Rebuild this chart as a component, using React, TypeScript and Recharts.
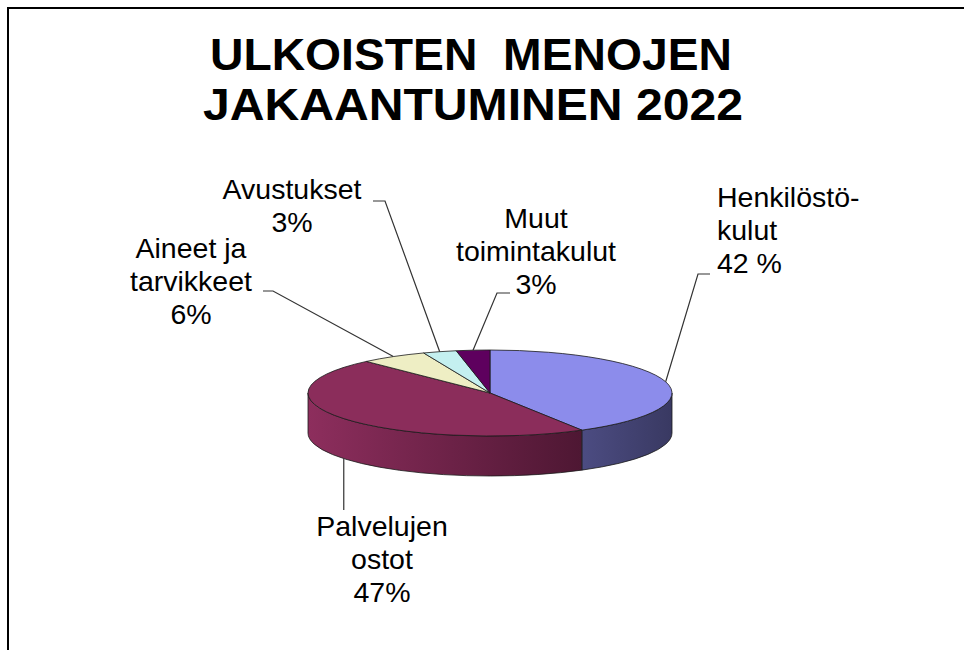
import React from "react";
import { PieChart, Pie } from "recharts";

// categories in clockwise order starting from 12 o'clock
const CATEGORIES = [
  "Henkilöstökulut",
  "Palvelujen ostot",
  "Aineet ja tarvikkeet",
  "Avustukset",
  "Muut toimintakulut",
];
const LABEL_LINES = [
  ["Henkilöstö-", "kulut"],
  ["Palvelujen", "ostot"],
  ["Aineet ja", "tarvikkeet"],
  ["Avustukset"],
  ["Muut", "toimintakulut"],
];
const SHARES = [42, 47, 6, 3, 3];
const PCT_LABELS = ["42 %", "47%", "6%", "3%", "3%"];

const TOP_COLORS = ["#8c8ceb", "#8b2d5b", "#eeeec4", "#c4f0f0", "#5e005e"];
const SIDE_COLORS: [string, string][] = [
  ["#4c4c82", "#393962"],
  ["#8d2e5d", "#4e1733"],
  ["#b8b890", "#8a8a6a"],
  ["#90b8b8", "#6a8a8a"],
  ["#460046", "#300030"],
];

const data = CATEGORIES.map((name, i) => ({ name, value: SHARES[i] }));

const W = 964;
const H = 650;
const CX = 490;
const CY = 393;
const R = 182;
const TILT = 43 / 182;
const DEPTH = 40;
const LH = 33;
const FONT = "'Liberation Sans', Arial, sans-serif";

// hand placed label boxes, like the manually dragged labels of the original
const LABEL_LAYOUT: any[] = [
  { x: 717, y: 207, anchor: "start", elbow: [698, 274], end: [710, 274] },
  { x: 382, y: 536, anchor: "middle", drop: 510 },
  { x: 191, y: 258, anchor: "middle", elbow: [273, 291], end: [263, 291] },
  { x: 292, y: 199, anchor: "middle", elbow: [385, 201], end: [373, 201] },
  { x: 536, y: 228, anchor: "middle", elbow: [497, 293], end: [510, 293] },
];

function ellPt(cx: number, cy: number, rx: number, ry: number, deg: number) {
  const r = (deg * Math.PI) / 180;
  return [cx + rx * Math.cos(r), cy - ry * Math.sin(r)];
}

function renderSlice(props: any) {
  const { cx, cy, outerRadius, startAngle, endAngle, index } = props;
  const rx = outerRadius;
  const ry = outerRadius * TILT;
  const lo = Math.min(startAngle, endAngle);
  const hi = Math.max(startAngle, endAngle);

  // front facing part of the rim (lower half of the ellipse)
  const walls: number[][] = [];
  for (let k = -2; k <= 1; k++) {
    const a = Math.max(lo, -180 + 360 * k);
    const b = Math.min(hi, 360 * k);
    if (b - a > 0.01) walls.push([a, b]);
  }

  const [hx, hy] = ellPt(cx, cy, rx, ry, hi);
  const [lx, ly] = ellPt(cx, cy, rx, ry, lo);
  const large = hi - lo > 180 ? 1 : 0;
  const top = `M${cx},${cy} L${hx},${hy} A${rx},${ry} 0 ${large} 1 ${lx},${ly} Z`;
  const gid = `side-grad-${index}`;

  return (
    <g key={`slice-${index}`}>
      <defs>
        <linearGradient id={gid} x1="0" y1="0" x2="1" y2="0">
          <stop offset="0%" stopColor={SIDE_COLORS[index][0]} />
          <stop offset="100%" stopColor={SIDE_COLORS[index][1]} />
        </linearGradient>
      </defs>
      {walls.map(([a, b], j) => {
        const [bx, by] = ellPt(cx, cy, rx, ry, b);
        const [ax, ay] = ellPt(cx, cy, rx, ry, a);
        const d = `M${bx},${by} A${rx},${ry} 0 0 1 ${ax},${ay} L${ax},${ay + DEPTH} A${rx},${ry} 0 0 0 ${bx},${by + DEPTH} Z`;
        return (
          <path
            key={j}
            d={d}
            fill={`url(#${gid})`}
            stroke="#1a1a1a"
            strokeWidth={0.8}
            strokeLinejoin="round"
          />
        );
      })}
      <path
        d={top}
        fill={TOP_COLORS[index]}
        stroke="#1a1a1a"
        strokeWidth={0.8}
        strokeLinejoin="round"
      />
    </g>
  );
}

function renderLabel(props: any) {
  const { cx, cy, outerRadius, midAngle, index } = props;
  const lay = LABEL_LAYOUT[index];
  let [ax, ay] = ellPt(cx, cy, outerRadius, outerRadius * TILT, midAngle);
  if (Math.sin((midAngle * Math.PI) / 180) < 0) ay += DEPTH;
  const pts =
    lay.drop != null ? [[ax, ay], [ax, lay.drop]] : [[ax, ay], lay.elbow, lay.end];
  const lines = [...LABEL_LINES[index], PCT_LABELS[index]];
  return (
    <g key={`label-${index}`}>
      <polyline
        points={pts.map((p: number[]) => p.join(",")).join(" ")}
        fill="none"
        stroke="#333"
        strokeWidth={1.2}
      />
      <text
        textAnchor={lay.anchor}
        fontFamily={FONT}
        fontSize={28.5}
        fill="#000"
      >
        {lines.map((l, i) => (
          <tspan key={i} x={lay.x} y={lay.y + i * LH}>
            {l}
          </tspan>
        ))}
      </text>
    </g>
  );
}

export default function App() {
  return (
    <div
      style={{
        position: "fixed",
        left: 0,
        top: 0,
        width: W,
        height: H,
        background: "#fff",
        overflow: "hidden",
      }}
    >
      <div
        style={{
          position: "absolute",
          left: 7,
          top: 7,
          width: W + 20,
          height: H + 20,
          borderTop: "2px solid #000",
          borderLeft: "2px solid #000",
        }}
      />
      <svg
        width={W}
        height={140}
        style={{ position: "absolute", left: 0, top: 0 }}
      >
        <text
          x={210}
          y={70}
          fontFamily={FONT}
          fontWeight="bold"
          fontSize={45}
          textLength={522}
          lengthAdjust="spacingAndGlyphs"
          style={{ whiteSpace: "pre" }}
        >
          {"ULKOISTEN  MENOJEN"}
        </text>
        <text
          x={203}
          y={120}
          fontFamily={FONT}
          fontWeight="bold"
          fontSize={45}
          textLength={540}
          lengthAdjust="spacingAndGlyphs"
        >
          JAKAANTUMINEN 2022
        </text>
      </svg>
      <div style={{ position: "absolute", left: 0, top: 0 }}>
        <PieChart
          width={W}
          height={H}
          margin={{ top: 0, right: 0, bottom: 0, left: 0 }}
        >
          <Pie
            data={data}
            dataKey="value"
            nameKey="name"
            cx={CX}
            cy={CY}
            outerRadius={R}
            startAngle={90}
            endAngle={-270}
            fill="none"
            stroke="none"
            label={renderSlice}
            labelLine={false}
            isAnimationActive={false}
          />
          <Pie
            data={data}
            dataKey="value"
            nameKey="name"
            cx={CX}
            cy={CY}
            outerRadius={R}
            startAngle={90}
            endAngle={-270}
            fill="none"
            stroke="none"
            label={renderLabel}
            labelLine={false}
            isAnimationActive={false}
          />
        </PieChart>
      </div>
    </div>
  );
}
